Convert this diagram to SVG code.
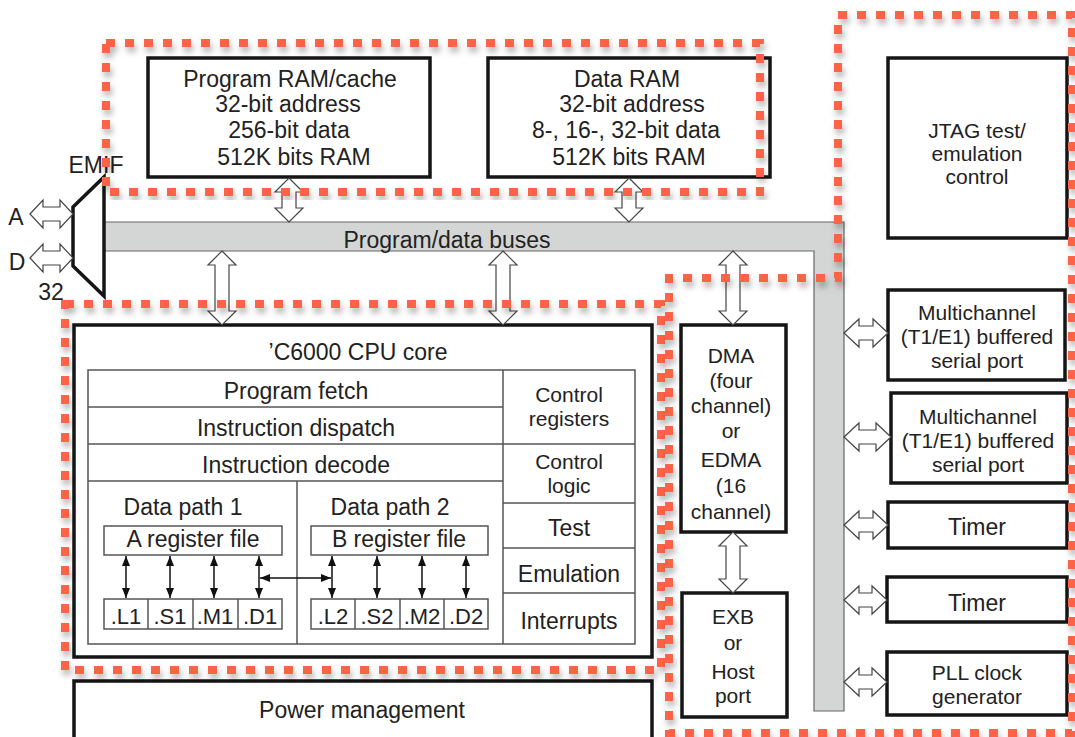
<svg xmlns="http://www.w3.org/2000/svg" width="1075" height="737" viewBox="0 0 1075 737">
<style>
  text { font-family: "Liberation Sans", Arial, sans-serif; font-size: 23px; fill: #222; text-anchor: middle; }
  .unit { font-size: 22px; }
  .tight { font-size: 21px; }
  .box { fill: #fff; stroke: #151515; stroke-width: 3.5; }
  .cell { fill: none; stroke: #555; stroke-width: 1.5; }
  .hollow { fill: #fff; stroke: #444; stroke-width: 1.2; stroke-linejoin: miter; }
  .thin { stroke: #111; stroke-width: 1.5; marker-start: url(#ah); marker-end: url(#ah); }
  .bus { fill: #d4d6d6; stroke: #666; stroke-width: 1.2; }
  .region { fill: none; stroke: #ff6347; stroke-width: 8; stroke-dasharray: 9 10; filter: url(#sh); }
</style>
<defs>
  <marker id="ah" viewBox="0 0 10 8" refX="10" refY="4" markerWidth="10" markerHeight="8" markerUnits="userSpaceOnUse" orient="auto-start-reverse">
    <path d="M0,0 L10,4 L0,8 z" fill="#111"/>
  </marker>
  <filter id="sh" x="-5%" y="-5%" width="110%" height="110%">
    <feDropShadow dx="2" dy="5" stdDeviation="3" flood-color="#000" flood-opacity="0.3"/>
  </filter>
</defs>
<rect width="1075" height="737" fill="#fff"/>

<g id="bus">
  <polygon class="bus" points="104,222 844,222 844,711 814,711 814,251 104,251"/>
  <text x="447" y="248">Program/data buses</text>
</g>

<g id="emif">
  <polygon fill="#fff" stroke="#151515" stroke-width="3.5" points="73,207 104,177 104,296 73,266"/>
  <text x="96" y="173">EMIF</text>
  <text x="16" y="225">A</text>
  <text x="17" y="270">D</text>
  <text x="51" y="300">32</text>
</g>

<g id="program-ram">
  <rect class="box" x="148" y="58" width="282" height="119"/>
  <text x="290" y="87">Program RAM/cache</text>
  <text x="288" y="112">32-bit address</text>
  <text x="289" y="138">256-bit data</text>
  <text x="294" y="165">512K bits RAM</text>
</g>

<g id="data-ram">
  <rect class="box" x="488" y="58" width="282" height="119"/>
  <text x="627" y="87">Data RAM</text>
  <text x="632" y="112">32-bit address</text>
  <text x="626" y="138">8-, 16-, 32-bit data</text>
  <text x="629" y="165">512K bits RAM</text>
</g>

<g id="jtag">
  <rect class="box" x="888" y="58" width="179" height="180"/>
  <text class="tight" x="977" y="138">JTAG test/</text>
  <text class="tight" x="977" y="161">emulation</text>
  <text class="tight" x="977" y="184">control</text>
</g>

<g id="cpu-core">
  <rect class="box" x="74" y="325" width="578" height="332"/>
  <text x="358" y="360">&#8217;C6000 CPU core</text>
  <rect class="cell" x="88" y="370" width="547" height="274"/>
  <line class="cell" x1="503" y1="370" x2="503" y2="644"/>
  <line class="cell" x1="88" y1="407" x2="503" y2="407"/>
  <line class="cell" x1="88" y1="444" x2="635" y2="444"/>
  <line class="cell" x1="88" y1="481" x2="503" y2="481"/>
  <line class="cell" x1="297" y1="481" x2="297" y2="644"/>
  <line class="cell" x1="503" y1="503" x2="635" y2="503"/>
  <line class="cell" x1="503" y1="548" x2="635" y2="548"/>
  <line class="cell" x1="503" y1="593" x2="635" y2="593"/>
  <text x="296" y="399">Program fetch</text>
  <text x="296" y="436">Instruction dispatch</text>
  <text x="296" y="473">Instruction decode</text>
  <text class="tight" x="569" y="402">Control</text>
  <text class="tight" x="569" y="426">registers</text>
  <text class="tight" x="569" y="469">Control</text>
  <text class="tight" x="569" y="493">logic</text>
  <text x="569" y="536">Test</text>
  <text x="569" y="582">Emulation</text>
  <text x="569" y="629">Interrupts</text>
  <text x="183" y="515">Data path 1</text>
  <text x="390" y="515">Data path 2</text>
  <rect class="cell" x="104" y="526" width="178" height="29"/>
  <rect class="cell" x="311" y="526" width="177" height="29"/>
  <text x="193" y="547">A register file</text>
  <text x="399" y="547">B register file</text>
  <rect class="cell" x="104" y="599" width="178" height="30"/>
  <line class="cell" x1="148" y1="599" x2="148" y2="629"/>
  <line class="cell" x1="193" y1="599" x2="193" y2="629"/>
  <line class="cell" x1="238" y1="599" x2="238" y2="629"/>
  <rect class="cell" x="311" y="599" width="177" height="30"/>
  <line class="cell" x1="355" y1="599" x2="355" y2="629"/>
  <line class="cell" x1="400" y1="599" x2="400" y2="629"/>
  <line class="cell" x1="444" y1="599" x2="444" y2="629"/>
  <text class="unit" x="126" y="624">.L1</text>
  <text class="unit" x="170" y="624">.S1</text>
  <text class="unit" x="215" y="624">.M1</text>
  <text class="unit" x="260" y="624">.D1</text>
  <text class="unit" x="333" y="624">.L2</text>
  <text class="unit" x="377" y="624">.S2</text>
  <text class="unit" x="422" y="624">.M2</text>
  <text class="unit" x="466" y="624">.D2</text>
</g>

<g id="power-management">
  <rect class="box" x="74" y="681" width="578" height="70"/>
  <text x="362" y="718">Power management</text>
</g>

<g id="dma">
  <rect class="box" x="681" y="325" width="105" height="207"/>
  <text class="tight" x="731" y="363">DMA</text>
  <text class="tight" x="731" y="388">(four</text>
  <text class="tight" x="731" y="413">channel)</text>
  <text class="tight" x="731" y="438">or</text>
  <text class="tight" x="731" y="467">EDMA</text>
  <text class="tight" x="731" y="493">(16</text>
  <text class="tight" x="731" y="519">channel)</text>
</g>

<g id="exb">
  <rect class="box" x="682" y="593" width="105" height="124"/>
  <text class="tight" x="733" y="624">EXB</text>
  <text class="tight" x="733" y="650">or</text>
  <text class="tight" x="733" y="679">Host</text>
  <text class="tight" x="733" y="703">port</text>
</g>

<g id="mcbsp1">
  <rect class="box" x="888" y="290" width="177" height="90"/>
  <text class="tight" x="977" y="320">Multichannel</text>
  <text class="tight" x="977" y="344">(T1/E1) buffered</text>
  <text class="tight" x="977" y="368">serial port</text>
</g>

<g id="mcbsp2">
  <rect class="box" x="891" y="393" width="176" height="90"/>
  <text class="tight" x="978" y="424">Multichannel</text>
  <text class="tight" x="978" y="448">(T1/E1) buffered</text>
  <text class="tight" x="978" y="472">serial port</text>
</g>

<g id="timer1">
  <rect class="box" x="888" y="502" width="179" height="46"/>
  <text x="977" y="535">Timer</text>
</g>

<g id="timer2">
  <rect class="box" x="887" y="577" width="180" height="45"/>
  <text x="977" y="611">Timer</text>
</g>

<g id="pll">
  <rect class="box" x="887" y="652" width="180" height="63"/>
  <text class="tight" x="977" y="680">PLL clock</text>
  <text class="tight" x="977" y="704">generator</text>
</g>

<g id="connectors">
  <polygon class="hollow" points="289,178 303,192 296,192 296,208 303,208 289,222 275,208 282,208 282,192 275,192"/>
  <polygon class="hollow" points="629,178 643,192 636,192 636,208 643,208 629,222 615,208 622,208 622,192 615,192"/>
  <polygon class="hollow" points="222,251 236,265 229,265 229,311 236,311 222,325 208,311 215,311 215,265 208,265"/>
  <polygon class="hollow" points="503,251 517,265 510,265 510,311 517,311 503,325 489,311 496,311 496,265 489,265"/>
  <polygon class="hollow" points="733,251 747,265 740,265 740,311 747,311 733,325 719,311 726,311 726,265 719,265"/>
  <polygon class="hollow" points="733,532 747,546 740,546 740,579 747,579 733,593 719,579 726,579 726,546 719,546"/>
  <polygon class="hollow" points="844,333 859,319 859,326 873,326 873,319 888,333 873,347 873,340 859,340 859,347"/>
  <polygon class="hollow" points="844,437 859,423 859,430 876,430 876,423 891,437 876,451 876,444 859,444 859,451"/>
  <polygon class="hollow" points="844,525 859,511 859,518 873,518 873,511 888,525 873,539 873,532 859,532 859,539"/>
  <polygon class="hollow" points="844,600 859,586 859,593 872,593 872,586 887,600 872,614 872,607 859,607 859,614"/>
  <polygon class="hollow" points="844,682 859,668 859,675 872,675 872,668 887,682 872,696 872,689 859,689 859,696"/>
  <polygon class="hollow" points="30,214 43,200 43,207 60,207 60,200 73,214 60,228 60,221 43,221 43,228"/>
  <polygon class="hollow" points="30,258 43,244 43,251 60,251 60,244 73,258 60,272 60,265 43,265 43,272"/>
  <line class="thin" x1="126" y1="556" x2="126" y2="598"/>
  <line class="thin" x1="170" y1="556" x2="170" y2="598"/>
  <line class="thin" x1="214" y1="556" x2="214" y2="598"/>
  <line class="thin" x1="259" y1="556" x2="259" y2="598"/>
  <line class="thin" x1="332" y1="556" x2="332" y2="598"/>
  <line class="thin" x1="377" y1="556" x2="377" y2="598"/>
  <line class="thin" x1="422" y1="556" x2="422" y2="598"/>
  <line class="thin" x1="466" y1="556" x2="466" y2="598"/>
  <line class="thin" x1="260" y1="578" x2="331" y2="578"/>
</g>

<g id="regions">
  <rect class="region" x="106" y="43" width="654" height="149"/>
  <rect class="region" x="65" y="304" width="596" height="366"/>
  <polygon class="region" points="838,15 1072,15 1072,733 669,733 669,278 838,278"/>
</g>
</svg>
